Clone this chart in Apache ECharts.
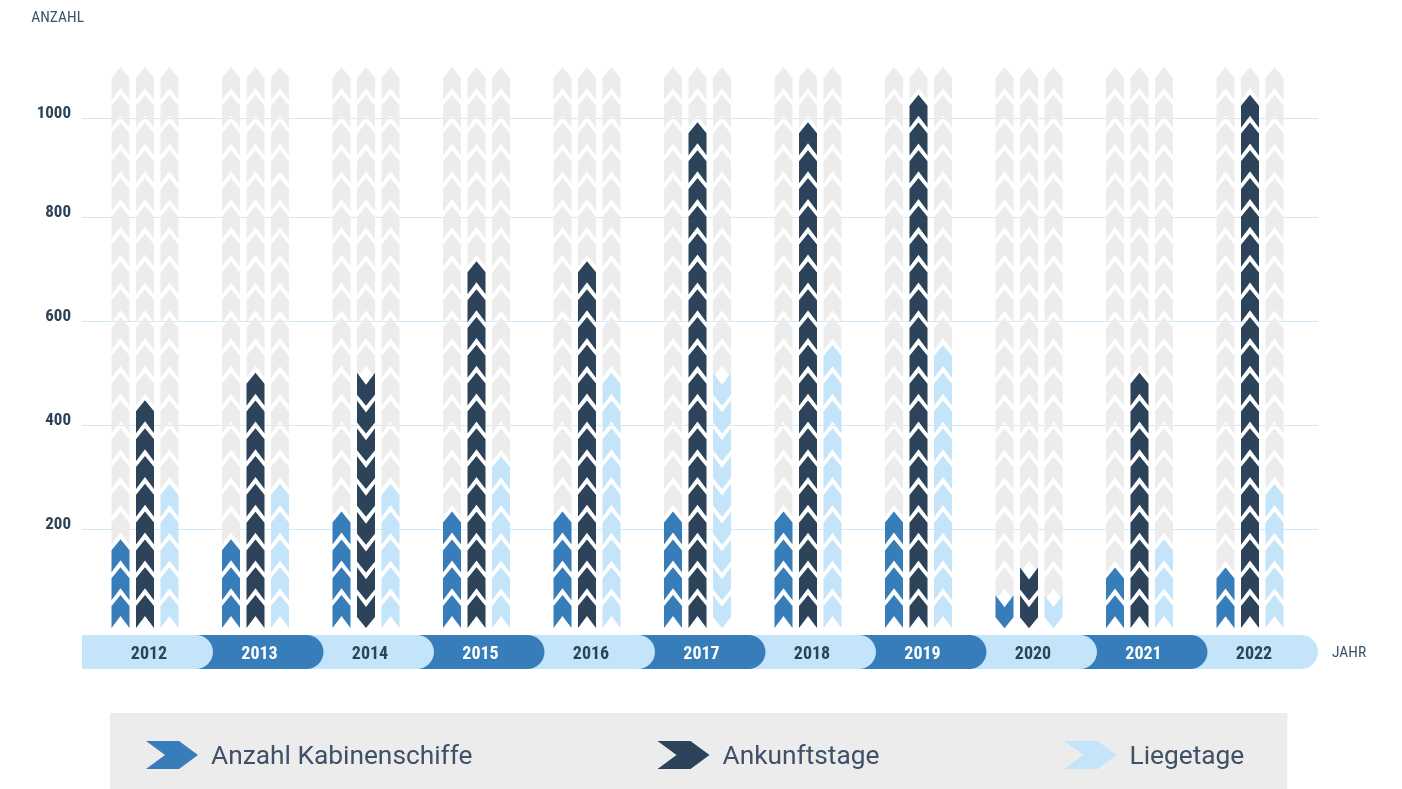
<!DOCTYPE html>
<html><head><meta charset="utf-8">
<style>html,body{margin:0;padding:0;background:#fff}#c{width:1402px;height:789px}</style>
<script src="https://cdn.jsdelivr.net/npm/echarts@6/dist/echarts.min.js"></script>
</head><body><div id="c"></div>
<script>
const years = ['2012','2013','2014','2015','2016','2017','2018','2019','2020','2021','2022'];
const kabinenschiffe = [163,163,217,217,217,217,217,217,54,108,108];
const ankunftstage   = [434,488,488,705,705,976,976,1030,108,488,1030];
const liegetage      = [271,271,271,325,488,488,542,542,54,163,271];
const kabinenRest  = [921,921,867,867,867,867,867,867,1030,976,976];
const ankunftRest  = [650,596,596,379,379,108,108,54,976,596,54];
const liegeRest    = [813,813,813,759,596,596,542,542,1030,921,813];
const kabinenFlipped = ['2020'];
const ankunftFlipped = ['2014','2020'];
const liegeFlipped   = ['2017','2020'];
// Gridline positions as drawn in the picture; its top line sits closer to 800 than the others.
const yTicks = [200,400,600,800,991];

const UP = 'path://M9 0L18 11L18 33L9 21L0 33L0 11Z';
const DOWN = 'path://M0 0L9 12L18 0L18 22L9 33L0 22Z';
const RIGHT = 'path://M0 0L33 0L52 14L33 28L0 28L19 14Z';
const UNIT = 54.2, BLUE='#377dba', DARK='#2c4359', LIGHT='#c3e4f9', GRAY='#ececec', TEXT='#3e5166';
const NARROW = '"Liberation Sans Narrow","Roboto Condensed",Roboto,sans-serif';
const AXIS_MAX = 1088, PLOT_H = 558, BASE_SHIFT = -7.5;
const chevrons = (vals, flipped, dx, under) => vals.map((v,i)=>({
  value:v, symbolBoundingData:v, symbolRepeat:Math.max(1,Math.round(v/UNIT)),
  symbol: flipped.includes(years[i]) ? DOWN : UP,
  symbolOffset:[dx, BASE_SHIFT - (under ? under[i]*PLOT_H/AXIS_MAX : 0)]
}));
const pict = (name,data,color,z) => ({
  type:'pictorialBar', name, data, xAxisIndex:0, yAxisIndex:0,
  barWidth:18, barGap:'-100%', symbolSize:[18,33], symbolMargin:'0!',
  symbolPosition:'start', itemStyle:{color}, z, silent:true
});
const chart = echarts.init(document.getElementById('c'),null,{renderer:'canvas'});
chart.setOption({
  animation:false,
  grid:[
    {left:89.75,width:1215.5,top:75,height:PLOT_H},
    {left:82,right:84,top:75.7,height:PLOT_H}
  ],
  xAxis:[
    {gridIndex:0,type:'category',data:years,z:10,axisLine:{show:false},axisTick:{show:false},
     axisLabel:{margin:12,interval:0,fontFamily:NARROW,fontWeight:'bold',fontSize:18,padding:[0,0,0,8],
       color:(v,i)=> i%2 ? '#ffffff' : DARK}},
    {gridIndex:1,type:'value',min:0,max:1,axisLine:{show:false},axisTick:{show:false},axisLabel:{show:false},splitLine:{show:false}}
  ],
  yAxis:[
    {gridIndex:0,type:'value',min:0,max:AXIS_MAX,show:false},
    {gridIndex:1,type:'value',min:0,max:1073,axisLine:{show:false},axisTick:{show:false,customValues:yTicks},
     splitLine:{show:true,lineStyle:{color:'#cfe8fa',width:1}},
     axisLabel:{customValues:yTicks,margin:11,fontFamily:NARROW,fontWeight:'bold',fontSize:17,color:DARK,
       verticalAlign:'bottom',lineHeight:9,formatter:v=>String(Math.round(v/100)*100)},
     name:'ANZAHL',nameLocation:'end',nameGap:50,nameTextStyle:{fontFamily:NARROW,fontSize:15.5,color:TEXT,align:'right',padding:[0,-2,0,0]}}
  ],
  graphic:[{type:'text',left:1332,top:645,silent:true,style:{text:'JAHR',fontFamily:NARROW,fontSize:15.5,fill:TEXT}}],
  legend:{
    left:110,top:713,padding:[28,43,20,36],backgroundColor:GRAY,itemGap:185,itemWidth:52,itemHeight:28,
    selectedMode:false,
    formatter:'{t|{name}}',
    textStyle:{rich:{t:{fontFamily:'Roboto,sans-serif',fontSize:26.3,color:TEXT,padding:[5,0,0,8]}}},
    data:[{name:'Anzahl Kabinenschiffe',icon:RIGHT},{name:'Ankunftstage',icon:RIGHT},{name:'Liegetage',icon:RIGHT}]
  },
  series:[
    {type:'custom',xAxisIndex:0,yAxisIndex:0,z:2,silent:true,clip:false,data:years.map((y,i)=>i),
     renderItem:(params,api)=>{
       const i=api.value(0), c=api.coord([i,0]), band=api.size([1,0])[0];
       const right=c[0]+band*0.615, left=i===0?82:right-band-40;
       return {type:'rect',z2:100-i,shape:{x:left,y:c[1]+2,width:right-left,height:34,r:[0,17,17,0]},
         style:{fill:i%2?BLUE:LIGHT}};
     },encode:{x:0}},
    pict('rest1',chevrons(kabinenRest,[],-24.5,kabinenschiffe),GRAY,3),
    pict('rest2',chevrons(ankunftRest,[],0,ankunftstage),GRAY,3),
    pict('rest3',chevrons(liegeRest,[],24.5,liegetage),GRAY,3),
    pict('Anzahl Kabinenschiffe',chevrons(kabinenschiffe,kabinenFlipped,-24.5),BLUE,4),
    pict('Ankunftstage',chevrons(ankunftstage,ankunftFlipped,0),DARK,4),
    pict('Liegetage',chevrons(liegetage,liegeFlipped,24.5),LIGHT,4)
  ]
});
</script></body></html>
